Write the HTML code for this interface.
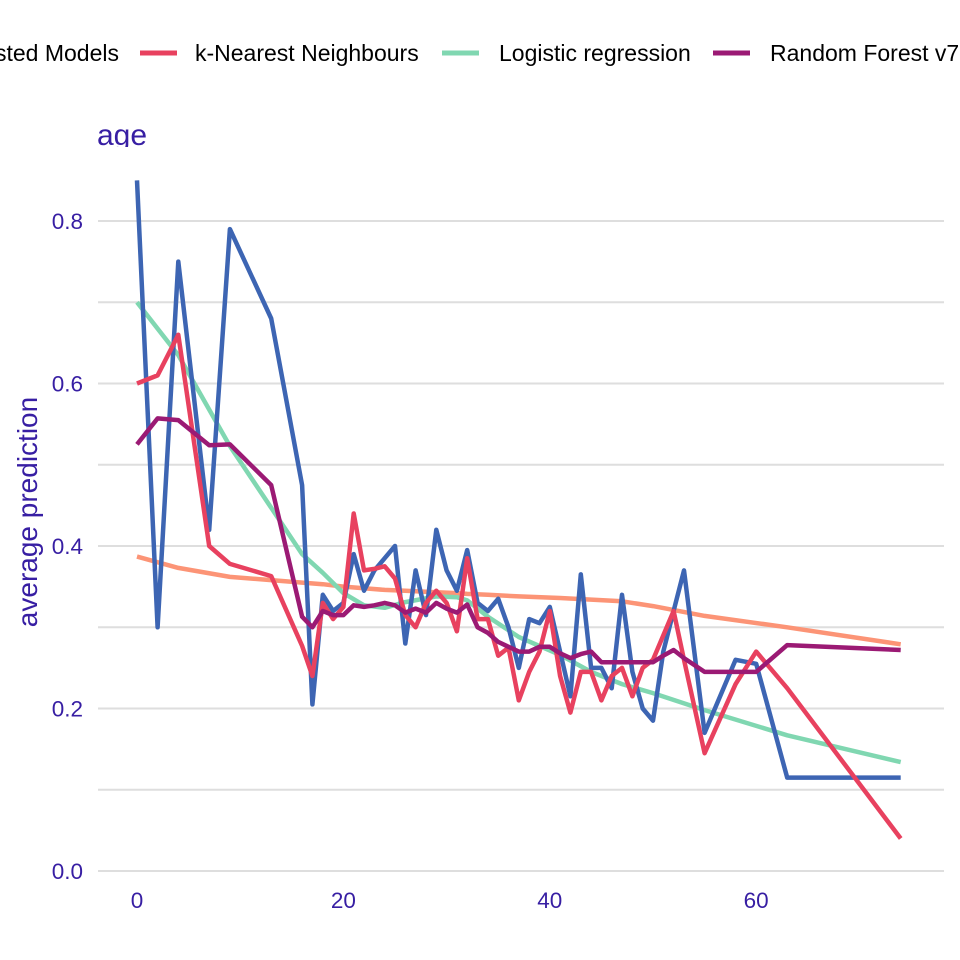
<!DOCTYPE html>
<html><head><meta charset="utf-8"><style>
html,body{margin:0;padding:0;background:#fff;}
svg{display:block;font-family:"Liberation Sans",Arial,sans-serif;}
</style></head><body>
<svg id="chart" width="960" height="960" viewBox="0 0 960 960"></svg>
<script>
const ages = [0,2,4,7,9,13,16,17,18,19,20,21,22,23,24,25,26,27,28,29,30,31,32,33,34,35,36,37,38,39,40,41,42,43,44,45,46,47,48,49,50,51,52,53,55,58,60,63,74];
const gbmValues = [0.85,0.30,0.75,0.42,0.79,0.68,0.475,0.205,0.34,0.32,0.33,0.39,0.345,0.37,0.385,0.40,0.28,0.37,0.315,0.42,0.37,0.345,0.395,0.33,0.32,0.335,0.30,0.25,0.31,0.305,0.325,0.27,0.215,0.365,0.25,0.25,0.225,0.34,0.245,0.20,0.185,0.27,0.32,0.37,0.17,0.26,0.255,0.115,0.115];
const knnValues = [0.60,0.61,0.66,0.40,0.378,0.363,0.277,0.24,0.33,0.31,0.325,0.44,0.37,0.372,0.375,0.36,0.315,0.30,0.33,0.345,0.33,0.295,0.385,0.31,0.31,0.265,0.275,0.21,0.245,0.27,0.32,0.24,0.195,0.245,0.245,0.21,0.24,0.25,0.215,0.25,0.26,0.29,0.32,0.26,0.145,0.23,0.27,0.225,0.04];
const rfValues = [0.525,0.557,0.555,0.524,0.525,0.475,0.313,0.30,0.32,0.315,0.315,0.327,0.325,0.327,0.33,0.327,0.318,0.323,0.318,0.33,0.323,0.318,0.328,0.30,0.293,0.282,0.276,0.27,0.27,0.276,0.276,0.268,0.262,0.267,0.27,0.257,0.257,0.257,0.257,0.257,0.257,0.265,0.272,0.262,0.245,0.245,0.245,0.278,0.272];
const smoothAges = [0,4,9,13,16,18,20,22,24,26,29,31,32,34,37,41,44,47,50,55,63,74];
const logisticValues = [0.70,0.635,0.523,0.447,0.39,0.367,0.342,0.327,0.324,0.331,0.338,0.337,0.333,0.313,0.288,0.266,0.245,0.23,0.219,0.198,0.167,0.134];
const otherValues = [0.387,0.373,0.362,0.358,0.355,0.353,0.350,0.348,0.346,0.345,0.343,0.342,0.341,0.340,0.338,0.336,0.334,0.332,0.326,0.314,0.30,0.279];
const yTicks = [0,0.2,0.4,0.6,0.8];
const yTickLabels = ["0.0","0.2","0.4","0.6","0.8"];
const xTicks = [0,20,40,60];
const gridValues = [0,0.1,0.2,0.3,0.4,0.5,0.6,0.7,0.8];

const NS="http://www.w3.org/2000/svg";
const svg=document.getElementById('chart');
const xs=v=>137+v*10.32;
const ys=v=>871-v*812.5;
function mk(tag,attrs,parent){const e=document.createElementNS(NS,tag);for(const k in attrs)e.setAttribute(k,attrs[k]);(parent||svg).appendChild(e);return e;}

const defs=mk('defs',{});
const cp=mk('clipPath',{id:'titleclip'},defs);
mk('rect',{x:0,y:100,width:400,height:47},cp);

gridValues.forEach(g=>{
  const l=mk('line',{x1:98,x2:944,y1:ys(g),y2:ys(g),stroke:'#dedede','stroke-width':2});
  
  
});
yTicks.forEach((t,i)=>{
  const tx=mk('text',{x:83,y:ys(t)+8,'text-anchor':'end','font-size':22.5,fill:'#371ea3'});
  tx.textContent=yTickLabels[i];
  
  
});
xTicks.forEach(t=>{
  const tx=mk('text',{x:xs(t),y:908,'text-anchor':'middle','font-size':22.5,fill:'#371ea3'});
  tx.textContent=String(t);
  
  
});
const yt=mk('text',{x:0,y:0,transform:'translate(37,512) rotate(-90)','text-anchor':'middle','font-size':28,fill:'#371ea3'});
yt.textContent='average prediction';


const ti=mk('text',{x:97,y:145,'font-size':30,fill:'#371ea3','clip-path':'url(#titleclip)'});
ti.textContent='age';



function series(xv,yv,color,name){
  const d=xv.map((a,i)=>(i?'L':'M')+xs(a).toFixed(1)+','+ys(yv[i]).toFixed(1)).join(' ');
  const p=mk('path',{d:d,fill:'none',stroke:color,'stroke-width':4.5,'stroke-linejoin':'round'});
  
  
}
series(smoothAges,otherValues,'#fc9476','line-other-model');
series(smoothAges,logisticValues,'#80d7b1','line-logistic-regression');
series(ages,gbmValues,'#3d65b3','line-gradient-boosted-models');
series(ages,knnValues,'#e8415f','line-k-nearest-neighbours');
series(ages,rfValues,'#9b1a74','line-random-forest');

const legend=[
  {sx:-80,tx:119,anchor:'end',label:'Gradient Boosted Models',c:'#3d65b3',n:'legend-entry-gbm'},
  {sx:140,tx:195,anchor:'start',label:'k-Nearest Neighbours',c:'#e8415f',n:'legend-entry-knn'},
  {sx:442,tx:499,anchor:'start',label:'Logistic regression',c:'#80d7b1',n:'legend-entry-logistic'},
  {sx:713,tx:770,anchor:'start',label:'Random Forest v7',c:'#9b1a74',n:'legend-entry-rf'}
];
legend.forEach(it=>{
  const g=mk('g',{});
  
  
  mk('line',{x1:it.sx,x2:it.sx+37,y1:53,y2:53,stroke:it.c,'stroke-width':5},g);
  const t=mk('text',{x:it.tx,y:61,'text-anchor':it.anchor,'font-size':23,fill:'#000'},g);
  t.textContent=it.label;
});
</script>
</body></html>
